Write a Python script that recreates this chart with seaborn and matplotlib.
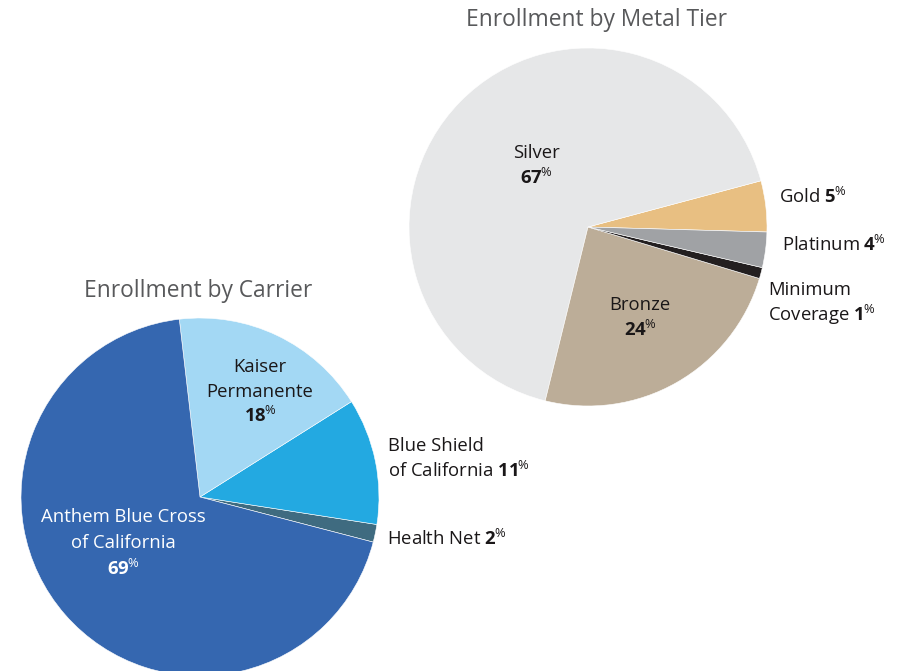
import matplotlib
matplotlib.use("Agg")
import matplotlib.pyplot as plt
import seaborn as sns

# data
metal_tiers = ["Gold", "Silver", "Bronze", "Minimum Coverage", "Platinum"]
metal_share = [4.6, 67.0, 24.2, 1.0, 3.2]
metal_pct = [5, 67, 24, 1, 4]
metal_colors = ["#e8bf82", "#e6e7e8", "#bcad98", "#231f20", "#a0a2a5"]

carriers = ["Health Net", "Blue Shield of California", "Kaiser Permanente",
            "Anthem Blue Cross of California"]
carrier_share = [1.6, 11.4, 17.9, 69.1]
carrier_pct = [2, 11, 18, 69]
carrier_colors = ["#3f6b80", "#23a9e1", "#a3d8f4", "#3567b0"]

sns.set_theme(style="white")
plt.rcParams["font.family"] = ["Open Sans", "DejaVu Sans"]
plt.rcParams["mathtext.fontset"] = "custom"
plt.rcParams["mathtext.rm"] = "Open Sans"
plt.rcParams["mathtext.bf"] = "Open Sans:bold"

W, H = 905, 671
fig = plt.figure(figsize=(W / 100, H / 100), dpi=100)
ax = fig.add_axes([0, 0, 1, 1])

wp = dict(edgecolor="white", linewidth=0.4)
ax.pie(metal_share, colors=metal_colors, startangle=-1.6, radius=179,
       center=(588, H - 227), wedgeprops=wp)
ax.pie(carrier_share, colors=carrier_colors, startangle=-14.6, radius=179,
       center=(200, H - 497), wedgeprops=wp)
ax.set_xlim(0, W)
ax.set_ylim(0, H)
ax.set_aspect("equal")
ax.axis("off")

TXT = "#1a1718"
FS = 13.3


def pct(v):
    return r"$\mathbf{%d}\hspace{-0.06}^{\%%}$" % v


def put(x, y, s, ha="center", color=TXT, size=FS):
    ax.text(x, H - y, s, ha=ha, va="center", color=color, fontsize=size)


# titles
put(596, 20, "Enrollment by Metal Tier", color="#58595b", size=16.4)
put(198, 291, "Enrollment by Carrier", color="#58595b", size=16.4)

# metal tier labels
put(536, 153, metal_tiers[1])
put(536, 178, pct(metal_pct[1]))
put(640, 305, metal_tiers[2])
put(640, 330, pct(metal_pct[2]))
put(779, 197, metal_tiers[0] + " " + pct(metal_pct[0]), ha="left")
put(782, 245, metal_tiers[4] + " " + pct(metal_pct[4]), ha="left")
mc = metal_tiers[3].split(" ")
put(768, 290, mc[0], ha="left")
put(768, 315, mc[1] + " " + pct(metal_pct[3]), ha="left")

# carrier labels
put(260, 367, "Kaiser")
put(260, 392, "Permanente")
put(260, 416, pct(carrier_pct[2]))
put(388, 446, "Blue Shield", ha="left")
put(388, 471, "of California " + pct(carrier_pct[1]), ha="left")
put(387, 539, carriers[0] + " " + pct(carrier_pct[0]), ha="left")
put(123, 517, "Anthem Blue Cross", color="white")
put(123, 543, "of California", color="white")
put(123, 569, pct(carrier_pct[3]), color="white")

fig.savefig("out.png", dpi=100)
